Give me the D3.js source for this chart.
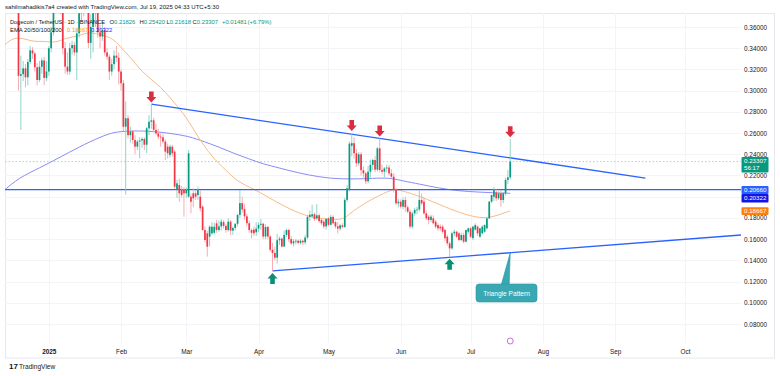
<!DOCTYPE html>
<html>
<head>
<meta charset="utf-8">
<script src="https://cdn.jsdelivr.net/npm/d3@7"></script>
<style>
  html, body { margin: 0; padding: 0; background: #ffffff; }
  svg { display: block; font-family: "Liberation Sans", "DejaVu Sans", sans-serif; }
</style>
</head>
<body>
<svg id="chart" width="780" height="376"></svg>
<script>

// DAILY CANDLES DOGE/USDT  [open, high, low, close]
//
var dec2024 = [
  [0.405,0.418,0.398,0.410],[0.410,0.415,0.396,0.401],[0.401,0.412,0.392,0.408],[0.408,0.420,0.393,0.399],
  [0.399,0.405,0.386,0.392],[0.392,0.396,0.381,0.386],[0.386,0.390,0.300,0.314],[0.314,0.333,0.263,0.3155],
  [0.3155,0.328,0.309,0.321],[0.321,0.325,0.303,0.3126],[0.3126,0.330,0.305,0.327],[0.327,0.342,0.325,0.338],
  [0.338,0.341,0.330,0.335],[0.335,0.337,0.318,0.322],[0.322,0.326,0.305,0.310],[0.310,0.328,0.308,0.3225],
  [0.3225,0.331,0.316,0.3285],[0.3285,0.332,0.305,0.312],[0.312,0.328,0.309,0.318]
];
var jan2025 = [
  [0.318,0.342,0.314,0.340],[0.340,0.360,0.336,0.355],[0.355,0.392,0.352,0.384],[0.384,0.398,0.376,0.390],
  [0.390,0.396,0.378,0.384],[0.384,0.404,0.372,0.380],[0.380,0.388,0.334,0.340],[0.340,0.346,0.316,0.3226],
  [0.3226,0.336,0.3147,0.318],[0.318,0.345,0.315,0.340],[0.340,0.347,0.334,0.343],[0.343,0.346,0.333,0.336],
  [0.336,0.357,0.310,0.354],[0.354,0.378,0.350,0.373],[0.373,0.392,0.365,0.385],[0.385,0.395,0.370,0.378],
  [0.378,0.405,0.375,0.395],[0.395,0.398,0.340,0.345],[0.345,0.372,0.330,0.360],[0.360,0.435,0.336,0.373],
  [0.373,0.392,0.360,0.380],[0.380,0.388,0.350,0.355],[0.355,0.362,0.340,0.351],[0.351,0.366,0.347,0.357],
  [0.357,0.360,0.333,0.336],[0.336,0.340,0.329,0.332],[0.332,0.334,0.310,0.318],[0.318,0.330,0.314,0.325],
  [0.325,0.338,0.320,0.333],[0.333,0.342,0.327,0.331],[0.331,0.336,0.306,0.318]
];
var feb2025 = [
  [0.318,0.320,0.300,0.307],[0.307,0.310,0.262,0.266],[0.266,0.290,0.202,0.274],[0.274,0.277,0.255,0.258],
  [0.258,0.266,0.251,0.2615],[0.2615,0.263,0.250,0.2535],[0.2535,0.258,0.240,0.2472],[0.2472,0.2535,0.244,0.2520],
  [0.2520,0.2560,0.2360,0.2530],[0.2530,0.2560,0.2460,0.2545],[0.2545,0.2560,0.2440,0.2490],[0.2490,0.2660,0.2410,0.2645],
  [0.2645,0.2770,0.2580,0.2707],[0.2707,0.2870,0.2640,0.2720],[0.2720,0.2745,0.2610,0.2630],[0.2630,0.2690,0.2580,0.2597],
  [0.2597,0.2640,0.2540,0.2566],[0.2566,0.2600,0.2472,0.2560],[0.2560,0.2590,0.2500,0.2520],[0.2520,0.2540,0.2346,0.2425],
  [0.2472,0.2500,0.2360,0.2409],[0.2393,0.2490,0.2370,0.2472],[0.2472,0.2490,0.2380,0.2409],[0.2425,0.2440,0.2070,0.2095],
  [0.2063,0.2160,0.1990,0.2126],[0.2110,0.2170,0.1953,0.2032],[0.2063,0.2100,0.1990,0.2016],[0.2063,0.2090,0.1812,0.2032]
];
var mar2025 = [
  [0.2032,0.2090,0.1990,0.2063],[0.2000,0.2440,0.1990,0.2409],[0.2000,0.2030,0.1843,0.1953],[0.2032,0.2080,0.1900,0.1985],
  [0.2032,0.2060,0.1970,0.2000],[0.2016,0.2095,0.1970,0.2063],[0.2000,0.2060,0.1860,0.1890],[0.1906,0.1920,0.1680,0.1686],
  [0.1686,0.1720,0.1570,0.1592],[0.1655,0.1680,0.1435,0.1529],[0.1623,0.1730,0.1530,0.1717],[0.1655,0.1760,0.1640,0.1717],
  [0.1660,0.1755,0.1645,0.1717],[0.1749,0.1780,0.1660,0.1686],[0.1686,0.1775,0.1670,0.1720],[0.1720,0.1790,0.1680,0.1765],
  [0.1760,0.1780,0.1700,0.1725],[0.1725,0.1740,0.1660,0.1686],[0.1686,0.1795,0.1670,0.1765],[0.1765,0.1780,0.1640,0.1680],
  [0.1680,0.1720,0.1640,0.1705],[0.1705,0.1750,0.1680,0.1745],[0.1745,0.1840,0.1720,0.1828],[0.1828,0.2063,0.1800,0.1940],
  [0.1940,0.2000,0.1850,0.1880],[0.1885,0.1930,0.1780,0.1815],[0.1815,0.1840,0.1720,0.1750],[0.1750,0.1775,0.1660,0.1686],
  [0.1686,0.1700,0.1608,0.1660],[0.1690,0.1720,0.1630,0.1655],[0.1665,0.1760,0.1630,0.1700]
];
var apr2025 = [
  [0.1700,0.1760,0.1665,0.1735],[0.1735,0.1790,0.1690,0.1745],[0.1745,0.1755,0.1600,0.1625],[0.1625,0.1740,0.1600,0.1715],
  [0.1715,0.1725,0.1600,0.1625],[0.1625,0.1635,0.1480,0.1500],[0.1500,0.1565,0.1300,0.1470],[0.1470,0.1530,0.1400,0.1425],
  [0.1425,0.1650,0.1370,0.1590],[0.1590,0.1625,0.1545,0.1605],[0.1605,0.1615,0.1520,0.1530],[0.1530,0.1680,0.1525,0.1640],
  [0.1640,0.1700,0.1620,0.1686],[0.1686,0.1700,0.1570,0.1600],[0.1600,0.1630,0.1545,0.1560],[0.1560,0.1600,0.1530,0.1580],
  [0.1580,0.1600,0.1550,0.1585],[0.1585,0.1595,0.1550,0.1565],[0.1565,0.1600,0.1550,0.1585],[0.1585,0.1590,0.1545,0.1570],
  [0.1570,0.1640,0.1550,0.1615],[0.1615,0.1830,0.1600,0.1810],[0.1810,0.1870,0.1770,0.1830],[0.1815,0.1925,0.1800,0.1835],
  [0.1835,0.1850,0.1770,0.1790],[0.1795,0.1930,0.1780,0.1825],[0.1825,0.1840,0.1755,0.1770],[0.1780,0.1800,0.1730,0.1750],
  [0.1765,0.1780,0.1700,0.1720],[0.1720,0.1800,0.1690,0.1790]
];
var may2025 = [
  [0.1795,0.1810,0.1720,0.1735],[0.1735,0.1830,0.1730,0.1810],[0.1810,0.1825,0.1740,0.1750],[0.1760,0.1775,0.1700,0.1720],
  [0.1720,0.1760,0.1655,0.1700],[0.1700,0.1745,0.1680,0.1730],[0.1730,0.1750,0.1700,0.1715],[0.1715,0.1990,0.1705,0.1970],
  [0.1970,0.2110,0.1950,0.2080],[0.2065,0.2520,0.2050,0.2500],[0.2480,0.2600,0.2380,0.2505],[0.2505,0.2560,0.2360,0.2410],
  [0.2410,0.2450,0.2280,0.2315],[0.2315,0.2420,0.2290,0.2400],[0.2400,0.2420,0.2200,0.2250],[0.2250,0.2285,0.2180,0.2220],
  [0.2220,0.2235,0.2120,0.2145],[0.2145,0.2290,0.2125,0.2236],[0.2236,0.2350,0.2180,0.2300],[0.2300,0.2360,0.2250,0.2346],
  [0.2346,0.2385,0.2230,0.2255],[0.2255,0.2470,0.2240,0.2456],[0.2456,0.2550,0.2230,0.2252],[0.2252,0.2300,0.2210,0.2236],
  [0.2236,0.2280,0.2180,0.2267],[0.2267,0.2300,0.2230,0.2275],[0.2275,0.2300,0.2200,0.2220],[0.2220,0.2260,0.2170,0.2189],
  [0.2189,0.2220,0.2040,0.2063],[0.2063,0.2080,0.1920,0.1938],[0.1938,0.1980,0.1900,0.1953]
];
var jun2025 = [
  [0.1953,0.1975,0.1890,0.1906],[0.1906,0.1990,0.1880,0.1969],[0.1969,0.2000,0.1860,0.1900],[0.1900,0.1920,0.1845,0.1859],
  [0.1859,0.1880,0.1700,0.1718],[0.1718,0.1860,0.1700,0.1843],[0.1843,0.1895,0.1820,0.1875],[0.1875,0.1905,0.1835,0.1880],
  [0.1880,0.2063,0.1860,0.1969],[0.1969,0.2030,0.1920,0.1938],[0.1953,0.1990,0.1830,0.1843],[0.1843,0.1870,0.1780,0.1796],
  [0.1812,0.1830,0.1740,0.1781],[0.1781,0.1830,0.1760,0.1812],[0.1796,0.1825,0.1740,0.1750],[0.1765,0.1780,0.1700,0.1718],
  [0.1733,0.1750,0.1680,0.1702],[0.1718,0.1740,0.1680,0.1702],[0.1718,0.1735,0.1650,0.1670],[0.1686,0.1700,0.1580,0.1608],
  [0.1623,0.1640,0.1540,0.1561],[0.1561,0.1580,0.1435,0.1513],[0.1513,0.1670,0.1500,0.1655],[0.1655,0.1690,0.1630,0.1670],
  [0.1670,0.1680,0.1610,0.1623],[0.1655,0.1670,0.1580,0.1592],[0.1592,0.1660,0.1580,0.1639],[0.1639,0.1660,0.1560,0.1576],
  [0.1576,0.1690,0.1570,0.1686],[0.1670,0.1710,0.1650,0.1702]
];
var jul2025 = [
  [0.1702,0.1715,0.1610,0.1623],[0.1610,0.1725,0.1590,0.1718],[0.1690,0.1750,0.1680,0.1733],[0.1718,0.1730,0.1630,0.1655],
  [0.1623,0.1705,0.1610,0.1702],[0.1655,0.1730,0.1645,0.1718],[0.1670,0.1740,0.1660,0.1733],[0.1702,0.1810,0.1690,0.1796],
  [0.1796,0.1960,0.1790,0.1953],[0.1953,0.2020,0.1940,0.2016],[0.2000,0.2090,0.1960,0.2063],[0.2040,0.2070,0.1960,0.1985],
  [0.1985,0.2050,0.1970,0.2032],[0.2032,0.2060,0.1906,0.1969],[0.1969,0.2045,0.1940,0.2032],[0.2032,0.2180,0.2010,0.2158],
  [0.2158,0.2250,0.2120,0.21826],[0.21826,0.25420,0.21618,0.23307]
];

// EMA LINES  [date, value]
//
var emaOrange = [
  ["2024-12-13",0.3430],["2024-12-17",0.3506],["2024-12-22",0.3487],["2024-12-26",0.3459],["2024-12-30",0.3468],
  ["2025-01-04",0.3449],["2025-01-08",0.3496],["2025-01-14",0.3515],["2025-01-18",0.3553],["2025-01-22",0.3534],
  ["2025-01-27",0.3506],["2025-01-30",0.3459],["2025-02-02",0.3383],["2025-02-06",0.3289],["2025-02-10",0.3176],
  ["2025-02-16",0.3072],["2025-02-20",0.2987],["2025-02-24",0.2883],["2025-03-01",0.2752],["2025-03-06",0.2563],
  ["2025-03-12",0.2374],["2025-03-18",0.2252],["2025-03-23",0.2139],["2025-03-30",0.2073],["2025-04-05",0.1997],
  ["2025-04-11",0.1922],["2025-04-18",0.1846],["2025-04-25",0.1799],["2025-05-01",0.1790],["2025-05-07",0.1780],
  ["2025-05-10",0.1837],["2025-05-14",0.1903],["2025-05-19",0.1969],["2025-05-25",0.2035],["2025-05-29",0.2073],
  ["2025-06-02",0.2054],["2025-06-09",0.2007],["2025-06-20",0.1903],["2025-06-29",0.1828],["2025-07-07",0.1790],
  ["2025-07-13",0.1828],["2025-07-18",0.18667]
];
var emaBlue = [
  ["2024-12-13",0.2063],["2024-12-19",0.2176],["2024-12-28",0.2271],["2025-01-06",0.2374],["2025-01-14",0.2469],
  ["2025-01-23",0.2563],["2025-01-29",0.2610],["2025-02-04",0.2620],["2025-02-13",0.2620],["2025-02-21",0.2601],
  ["2025-03-02",0.2572],["2025-03-09",0.2516],["2025-03-15",0.2469],["2025-03-21",0.2412],["2025-03-28",0.2356],
  ["2025-04-03",0.2308],["2025-04-10",0.2271],["2025-04-18",0.2224],["2025-04-27",0.2186],["2025-05-05",0.2167],
  ["2025-05-14",0.2167],["2025-05-22",0.2176],["2025-05-28",0.2176],["2025-06-02",0.2148],["2025-06-09",0.2120],
  ["2025-06-17",0.2082],["2025-06-26",0.2054],["2025-07-04",0.2044],["2025-07-13",0.2035],["2025-07-18",0.20322]
];

// DRAWINGS
//
var upperTrend = [["2025-02-14",0.2872],["2025-09-14",0.2176]];
var lowerTrend = [["2025-04-07",0.1300],["2025-10-25",0.1639]];
var supportLevel = 0.2066;
var lastPrice = 0.23307;
var topArrows = ["2025-02-14","2025-05-11","2025-05-23","2025-07-18"];
var bottomArrows = ["2025-04-07","2025-06-22"];

// AXES
//
var monthTicks = ["2025-01-01","2025-02-01","2025-03-01","2025-04-01","2025-05-01","2025-06-01","2025-07-01","2025-08-01","2025-09-01","2025-10-01"];
var monthLabels = ["2025","Feb","Mar","Apr","May","Jun","Jul","Aug","Sep","Oct"];
var priceTicks = [0.08,0.10,0.12,0.14,0.16,0.18,0.20,0.22,0.24,0.26,0.28,0.30,0.32,0.34,0.36];

var upColor = "#089981", downColor = "#f23645";
var upWick = "#86cfc1", downWick = "#f6a3ab";

var parseDay = d3.utcParse("%Y-%m-%d");
var fmt5 = d3.format(".5f");

function buildCandles(startDay, rows){
  var start = parseDay(startDay);
  return rows.map(function(r, i){
    return { date: d3.utcDay.offset(start, i), open: r[0], high: r[1], low: r[2], close: r[3] };
  });
}

var candles = [].concat(
  buildCandles("2024-12-13", dec2024),
  buildCandles("2025-01-01", jan2025),
  buildCandles("2025-02-01", feb2025),
  buildCandles("2025-03-01", mar2025),
  buildCandles("2025-04-01", apr2025),
  buildCandles("2025-05-01", may2025),
  buildCandles("2025-06-01", jun2025),
  buildCandles("2025-07-01", jul2025)
);
var candleOf = new Map(candles.map(function(c){ return [+c.date, c]; }));

var plot = { left: 5, right: 741, top: 13, bottom: 343 };

var x = d3.scaleUtc()
  .domain([parseDay("2025-01-01"), parseDay("2025-10-01")])
  .range([48.8, 685]);
var y = d3.scaleLinear()
  .domain([0.08, 0.36])
  .range([324, 27]);

var svg = d3.select("#chart");

// FRAME AND GRID
//
svg.append("rect")
  .attr("x", 5.5).attr("y", 13.5).attr("width", 769).attr("height", 344.5)
  .attr("fill", "none").attr("stroke", "#e6e8ee");

var grid = svg.append("g");
grid.selectAll(".hgrid").data(priceTicks).enter().append("line")
  .attr("x1", plot.left).attr("x2", plot.right)
  .attr("y1", function(d){ return Math.round(y(d)) + 0.5; })
  .attr("y2", function(d){ return Math.round(y(d)) + 0.5; })
  .attr("stroke", "#f3f4f7");
grid.selectAll(".vgrid").data(monthTicks).enter().append("line")
  .attr("x1", function(d){ return Math.round(x(parseDay(d))) + 0.5; })
  .attr("x2", function(d){ return Math.round(x(parseDay(d))) + 0.5; })
  .attr("y1", plot.top).attr("y2", plot.bottom)
  .attr("stroke", "#f3f4f7");

svg.append("clipPath").attr("id", "plotClip").append("rect")
  .attr("x", plot.left).attr("y", plot.top)
  .attr("width", plot.right - plot.left).attr("height", plot.bottom - plot.top);

var body = svg.append("g").attr("clip-path", "url(#plotClip)");

// LAST PRICE DOTTED LINE
//
body.append("line")
  .attr("x1", plot.left).attr("x2", plot.right)
  .attr("y1", y(lastPrice)).attr("y2", y(lastPrice))
  .attr("stroke", "#9ed8cc").attr("stroke-width", 1).attr("stroke-dasharray", "1.5,2");

// EMA LINES
//
var emaLine = d3.line()
  .x(function(d){ return x(parseDay(d[0])); })
  .y(function(d){ return y(d[1]); })
  .curve(d3.curveBasis);

body.append("path").datum(emaBlue)
  .attr("d", emaLine).attr("fill", "none")
  .attr("stroke", "#8a8cf5").attr("stroke-width", 1);
body.append("path").datum(emaOrange)
  .attr("d", emaLine).attr("fill", "none")
  .attr("stroke", "#f9bb86").attr("stroke-width", 1);

// SUPPORT AND TRIANGLE LINES
//
body.append("line")
  .attr("x1", plot.left).attr("x2", plot.right)
  .attr("y1", y(supportLevel)).attr("y2", y(supportLevel))
  .attr("stroke", "#2962ff").attr("stroke-width", 1.3);

var trendLine = d3.line()
  .x(function(d){ return x(parseDay(d[0])); })
  .y(function(d){ return y(d[1]); });

[upperTrend, lowerTrend].forEach(function(t){
  body.append("path").datum(t)
    .attr("d", trendLine).attr("fill", "none")
    .attr("stroke", "#2962ff").attr("stroke-width", 1.3);
});

// CANDLES
//
var bodyW = 1.7;
var candleG = body.append("g");

candleG.selectAll(".wick").data(candles).enter().append("line")
  .attr("x1", function(d){ return x(d.date); })
  .attr("x2", function(d){ return x(d.date); })
  .attr("y1", function(d){ return y(d.high); })
  .attr("y2", function(d){ return y(d.low); })
  .attr("stroke", function(d){ return d.close >= d.open ? upWick : downWick; })
  .attr("stroke-width", 0.9);

candleG.selectAll(".candle").data(candles).enter().append("rect")
  .attr("x", function(d){ return x(d.date) - bodyW / 2; })
  .attr("y", function(d){ return y(Math.max(d.open, d.close)); })
  .attr("width", bodyW)
  .attr("height", function(d){ return Math.max(0.8, Math.abs(y(d.open) - y(d.close))); })
  .attr("fill", function(d){ return d.close >= d.open ? upColor : downColor; });

// ARROWS
//
function arrowPath(cx, tipY, dir){
  // dir = 1 points down, dir = -1 points up
  var h = 11, head = 5.5, hw = 5, sw = 2.3;
  var base = tipY - dir * h;
  var neck = tipY - dir * head;
  return "M" + (cx - sw) + "," + base + "L" + (cx + sw) + "," + base +
    "L" + (cx + sw) + "," + neck + "L" + (cx + hw) + "," + neck +
    "L" + cx + "," + tipY + "L" + (cx - hw) + "," + neck +
    "L" + (cx - sw) + "," + neck + "Z";
}

body.selectAll(".downArrow").data(topArrows).enter().append("path")
  .attr("d", function(d){
    var c = candleOf.get(+parseDay(d));
    return arrowPath(x(c.date), y(c.high) - 2, 1);
  })
  .attr("fill", "#d92e40");

body.selectAll(".upArrow").data(bottomArrows).enter().append("path")
  .attr("d", function(d){
    var c = candleOf.get(+parseDay(d));
    return arrowPath(x(c.date), y(c.low) + 2, -1);
  })
  .attr("fill", "#0b8f73");

// TRIANGLE PATTERN CALLOUT
//
var tipX = x(parseDay("2025-07-18"));
var lx0 = x(parseDay(lowerTrend[0][0])), lx1 = x(parseDay(lowerTrend[1][0]));
var ly0 = y(lowerTrend[0][1]), ly1 = y(lowerTrend[1][1]);
var tipY = ly0 + (ly1 - ly0) * (tipX - lx0) / (lx1 - lx0);

var callout = svg.append("g");
callout.append("path")
  .attr("d", "M" + (tipX - 9) + ",285 L" + tipX + "," + tipY + " L" + (tipX - 1) + ",285 Z")
  .attr("fill", "#3aa8b2").attr("stroke", "#2b95a0").attr("stroke-width", 0.6);
callout.append("rect")
  .attr("x", 476).attr("y", 284).attr("width", 61).attr("height", 18).attr("rx", 3)
  .attr("fill", "#3aa8b2").attr("stroke", "#2b95a0").attr("stroke-width", 0.6);
callout.append("text")
  .attr("x", 506.5).attr("y", 295.5).attr("text-anchor", "middle")
  .attr("font-size", 6.6).attr("fill", "#ffffff")
  .text("Triangle Pattern");

// EVENT MARKER ON THE TIME LINE
//
svg.append("circle")
  .attr("cx", tipX).attr("cy", 341).attr("r", 3)
  .attr("fill", "#ffffff").attr("stroke", "#c05fd3").attr("stroke-width", 0.9);

// PRICE AXIS
//
var yAxis = d3.axisRight(y).tickValues(priceTicks).tickFormat(fmt5).tickSize(0).tickPadding(0);
var yAxisG = svg.append("g").attr("transform", "translate(744,0)").call(yAxis);
yAxisG.select(".domain").remove();
yAxisG.selectAll("text").attr("font-size", 6.4).attr("fill", "#131722")
  .attr("font-family", "Liberation Sans, DejaVu Sans, sans-serif");

// PRICE TAGS
//
function priceTag(y0, h, fill, lines){
  var g = svg.append("g");
  g.append("rect").attr("x", 741.5).attr("y", y0).attr("width", 27).attr("height", h)
    .attr("rx", 1).attr("fill", fill);
  lines.forEach(function(t, i){
    g.append("text").attr("x", 744).attr("y", y0 + 5.8 + i * 7.6)
      .attr("font-size", 6.2).attr("fill", "#ffffff").text(t);
  });
}
priceTag(157, 15.5, "#089981", [fmt5(lastPrice), "56:17"]);
priceTag(186, 8, "#2962ff", [fmt5(supportLevel)]);
priceTag(194, 8.5, "#1414e6", ["0.20322"]);
priceTag(207.3, 7.8, "#ff7f0e", ["0.18667"]);

// TIME AXIS
//
var xAxis = d3.axisBottom(x)
  .tickValues(monthTicks.map(parseDay))
  .tickFormat(function(d, i){ return monthLabels[i]; })
  .tickSize(0).tickPadding(0);
var xAxisG = svg.append("g").attr("transform", "translate(0,349)").call(xAxis);
xAxisG.select(".domain").remove();
xAxisG.selectAll("text").attr("font-size", 6.4).attr("fill", "#131722")
  .attr("font-family", "Liberation Sans, DejaVu Sans, sans-serif")
  .attr("font-weight", function(d, i){ return i === 0 ? "bold" : "normal"; });

// HEADER
//
svg.append("text").attr("x", 5).attr("y", 9).attr("font-size", 6.2).attr("fill", "#131722")
  .attr("textLength", 214).attr("lengthAdjust", "spacingAndGlyphs")
  .text("sahilmahadikis7a4 created with TradingView.com, Jul 19, 2025 04:33 UTC+5:30");

var last = candles[candles.length - 1];

svg.append("text").attr("x", 10).attr("y", 23.5)
  .attr("font-size", 5.7).attr("fill", "#131722")
  .text("Dogecoin / TetherUS \u00b7 1D \u00b7 BINANCE");

// O H L C pairs, letter dark and value green, one text each
var ohlcParts = [
  { x: 109.5, key: "O", value: last.open },
  { x: 139.5, key: "H", value: last.high },
  { x: 166.5, key: "L", value: last.low },
  { x: 192.5, key: "C", value: last.close }
];
var ohlcText = svg.selectAll(".ohlc").data(ohlcParts).enter().append("text")
  .attr("x", function(d){ return d.x; }).attr("y", 23.5)
  .attr("font-size", 5.9).attr("fill", "#131722");
ohlcText.append("tspan").text(function(d){ return d.key; });
ohlcText.append("tspan").attr("fill", upColor).text(function(d){ return fmt5(d.value); });

svg.append("text").attr("x", 222).attr("y", 23.5)
  .attr("font-size", 5.9).attr("fill", upColor).text("+0.01481");
svg.append("text").attr("x", 247.5).attr("y", 23.5)
  .attr("font-size", 5.9).attr("fill", upColor).text("(+6.79%)");

var emaParts = [
  { x: 10, text: "EMA 20/50/100/200", fill: "#131722" },
  { x: 67, text: "0.18667", fill: "#ff9800" },
  { x: 91, text: "0.20322", fill: "#2424ff" }
];
svg.selectAll(".emaLegend").data(emaParts).enter().append("text")
  .attr("x", function(d){ return d.x; }).attr("y", 32)
  .attr("font-size", 5.9).attr("fill", function(d){ return d.fill; })
  .text(function(d){ return d.text; });

// FOOTER
//
var logo = svg.append("g").attr("transform", "translate(9,363)");
logo.append("text").attr("x", 0).attr("y", 5.5).attr("font-size", 8).attr("font-weight", "bold")
  .attr("fill", "#131722").text("17");
logo.append("text").attr("x", 10).attr("y", 5.5).attr("font-size", 6.6)
  .attr("fill", "#131722").text("TradingView");

</script>
</body>
</html>
